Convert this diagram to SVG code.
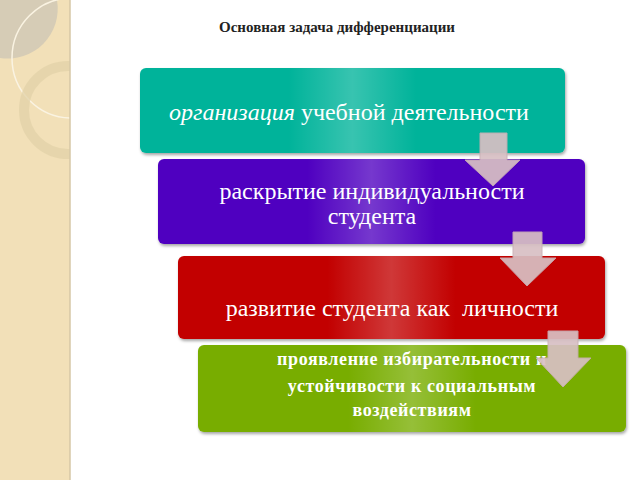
<svg xmlns="http://www.w3.org/2000/svg" width="640" height="480" viewBox="0 0 640 480">
<defs>
<linearGradient id="sh" x1="0" x2="1"><stop offset="0" stop-color="#fff" stop-opacity="0"/><stop offset="0.35" stop-color="#fff" stop-opacity="0"/><stop offset="0.5" stop-color="#fff" stop-opacity="0.22"/><stop offset="0.65" stop-color="#fff" stop-opacity="0"/><stop offset="1" stop-color="#fff" stop-opacity="0"/></linearGradient>
<filter id="ds" x="-5%" y="-10%" width="110%" height="130%"><feDropShadow dx="1" dy="2" stdDeviation="1.5" flood-opacity="0.35"/></filter>
<clipPath id="strip"><rect x="0" y="0" width="70" height="480"/></clipPath>
</defs>
<style>
.box{stroke:none;filter:url(#ds)}
.t{font-family:"Liberation Serif",serif;fill:#fff;text-anchor:middle}
.arr{fill:#d8c0c4;stroke:#c9aeb3;stroke-width:1;opacity:0.92}
</style>
<rect width="640" height="480" fill="#fff"/>
<rect x="0" y="0" width="70" height="480" fill="#f2e0b8"/>
<g clip-path="url(#strip)">
<path d="M0,0 H57 A50,50 0 0 1 0,58 Z" fill="#d6ccb6"/>
<circle cx="72" cy="58" r="60" fill="none" stroke="#faf3e2" stroke-width="1.5"/>
<circle cx="68" cy="110" r="44" fill="none" stroke="#e2d2a8" stroke-width="10" opacity="0.75"/>
</g>
<line x1="70" y1="0" x2="70" y2="480" stroke="#d6c7a6" stroke-width="1.5"/>
<text x="337" y="32" font-family="Liberation Serif,serif" font-size="15" font-weight="bold" fill="#222" text-anchor="middle">Основная задача дифференциации</text>
<g id="n1"><rect class="box" x="140" y="68" width="425" height="85" rx="6" fill="#00b39a"/><rect x="140" y="68" width="425" height="85" rx="6" fill="url(#sh)"/>
<text class="t" x="349" y="120" font-size="24"><tspan font-style="italic">организация</tspan> учебной деятельности</text></g>
<g id="n2"><rect class="box" x="158" y="159" width="427" height="85" rx="6" fill="#5000c0"/><rect x="158" y="159" width="427" height="85" rx="6" fill="url(#sh)"/>
<text class="t" x="372" y="199" font-size="24">раскрытие индивидуальности</text><text class="t" x="372" y="224" font-size="24">студента</text></g>
<g id="n3"><rect class="box" x="178" y="256" width="427" height="83" rx="6" fill="#c20000"/><rect x="178" y="256" width="427" height="83" rx="6" fill="url(#sh)"/>
<text class="t" x="392" y="316" font-size="24" xml:space="preserve">развитие студента как  личности</text></g>
<g id="n4"><rect class="box" x="198" y="345" width="428" height="87" rx="6" fill="#78ad00"/><rect x="198" y="345" width="428" height="87" rx="6" fill="url(#sh)"/>
<g font-weight="bold" letter-spacing="0.6"><text class="t" x="412" y="365" font-size="18">проявление избирательности и</text><text class="t" x="412" y="392" font-size="18">устойчивости к социальным</text><text class="t" x="412" y="416" font-size="18">воздействиям</text></g></g>
<g id="connectors">
<path class="arr" d="M480,133 H507 V160 H520 L493,186 L465,160 H480 Z"/>
<path class="arr" d="M513,232 H542 V258 H556 L527,286 L500,258 H513 Z"/>
<path class="arr" d="M548,331 H578 V358 H591 L563,387 L536,358 H548 Z"/>
</g>
</svg>
